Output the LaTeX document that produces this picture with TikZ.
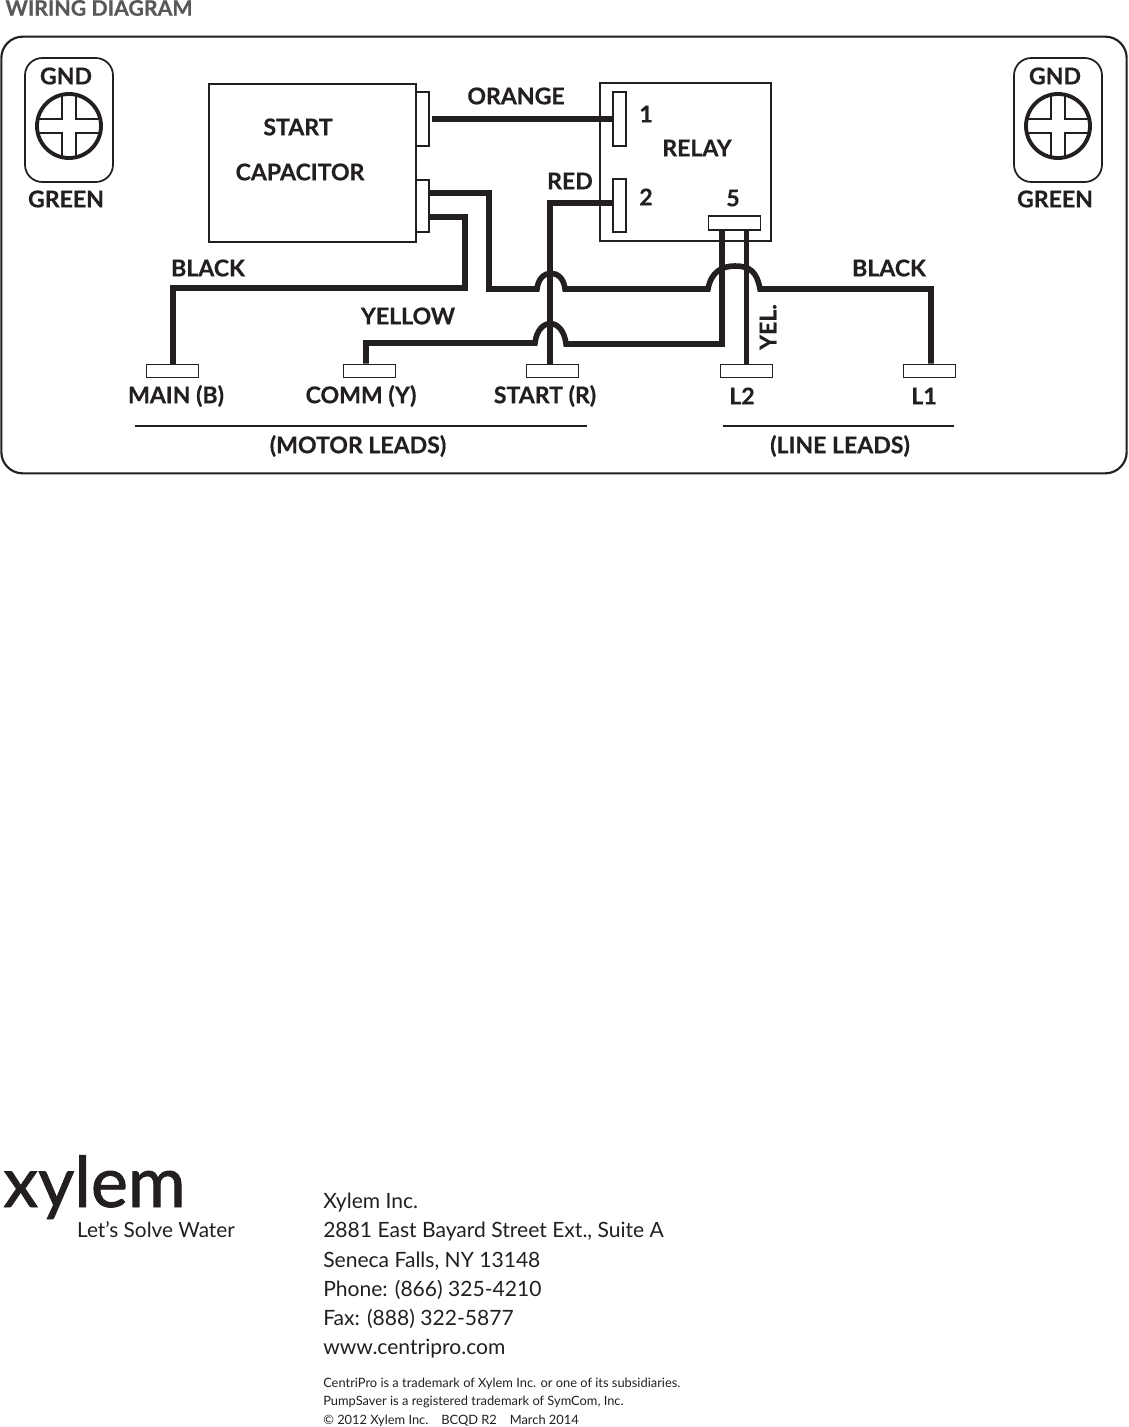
\documentclass[tikz,border=0pt]{standalone}
\usepackage{fontspec}
\setmainfont[BoldFeatures={FakeBold=0.5}]{Lato}
\newfontfamily\logofont[FakeBold=1.2]{Lato}
\usepackage{tikz}
\definecolor{ink}{HTML}{231F20}
\tikzset{
	lbl/.style={font=\fontsize{17.3}{19}\selectfont\bfseries, text=ink, inner sep=0pt},
	addr/.style={font=\fontsize{15.8}{18}\selectfont, text=ink, inner sep=0pt, anchor=west},
	fine/.style={font=\fontsize{9.65}{11}\selectfont, text=ink, inner sep=0pt, anchor=west},
	wire/.style={draw=ink, line width=4.2pt, miter limit=4},
	outline/.style={draw=ink, line width=1.6pt},
	lead/.style={draw=ink, fill=white, line width=1.2pt, minimum width=39pt, minimum height=10pt, inner sep=0pt},
	spade/.style={draw=ink, fill=white, line width=1.4pt, minimum width=10pt, minimum height=40pt, inner sep=0pt}
}
\begin{document}
\begin{tikzpicture}[x=0.75pt, y=-0.75pt]
\useasboundingbox (0,0) rectangle (1128,1427);

\node[lbl, font=\fontsize{16}{18}\selectfont\bfseries, text=ink!75] (title) at (99,8) {WIRING DIAGRAM};
\node[outline, rectangle, rounded corners=16pt, minimum width=844pt, minimum height=327.5pt, inner sep=0pt] (frame) at (564,255) {};

% ground screws
\foreach \x/\n in {69/L,1058/R} {
	\node[draw=ink, line width=1.3pt, rectangle, rounded corners=13pt, minimum width=66pt, minimum height=93pt, inner sep=0pt] (gnd\n) at (\x,120) {};
	\node[circle, draw=ink, line width=2.9pt, minimum size=48pt, inner sep=0pt] (screw\n) at (\x,126) {};
	\foreach \a in {1,-1} {
		\draw[ink, line width=1.3pt] (\x+\a*7,126-31) -- (\x+\a*7,126-7) -- (\x+\a*31,126-7);
		\draw[ink, line width=1.3pt] (\x+\a*7,126+31) -- (\x+\a*7,126+7) -- (\x+\a*31,126+7);
	}
	\node[lbl] (gndtxt\n) at (\x-3,76) {GND};
	\node[lbl] (green\n) at (\x-3,199) {GREEN};
}

% capacitor and relay
\node[outline, rectangle, minimum width=155pt, minimum height=118pt, inner sep=0pt] (cap) at (312.5,163) {};
\node[draw=ink, line width=1.4pt, minimum width=10pt, minimum height=40pt, inner sep=0pt] (capA) at (422.5,119) {};
\node[draw=ink, line width=1.4pt, minimum width=10pt, minimum height=39pt, inner sep=0pt] (capB) at (422.5,206) {};
\node[outline, rectangle, minimum width=128pt, minimum height=118pt, inner sep=0pt] (relay) at (685.5,162) {};
\node[spade] (relayA) at (619.5,119) {};
\node[spade] (relayB) at (619.5,205.5) {};
\node[lead, minimum height=10.5pt] (relayC) at (734.5,223) {};

% leads
\foreach \n/\x in {main/172.5,comm/369.5,start/552.5,ltwo/746.5,lone/929.5}
	\node[lead] (\n) at (\x,371) {};

% turning points
\coordinate (a1) at (489,193);
\coordinate (a2) at (489,289);
\coordinate (b1) at (465,217);
\coordinate (b2) at (465,288);
\coordinate (b3) at (173,288);
\coordinate (c1) at (366,343);
\coordinate (c2) at (722,344);
\coordinate (d1) at (550,203);
\coordinate (e1) at (931,289);

\draw[wire] ([xshift=1.5pt]capA.east) -- (relayA.west);
\draw[wire] (relayB.west |- d1) -- (d1) -- (start.north -| d1);
\draw[wire] (capB.east |- a1) -- (a1) -- (a2) -- (537,289)
	.. controls (539,268) and (563,268) .. (565,289)
	-- (708,289)
	.. controls (711,272) and (722,266) .. (735,266)
	.. controls (750,266) and (757,272) .. (760,289)
	-- (e1) -- (e1 |- lone.north);
\draw[wire] (capB.east |- b1) -- (b1) -- (b2) -- (b3) -- (b3 |- main.north);
\draw[wire] (c1 |- comm.north) -- (c1) -- (535,343)
	.. controls (538,317) and (563,317) .. (566,344)
	-- (c2) -- (c2 |- relayC.south);
\draw[wire] (relayC.south -| ltwo) -- (ltwo.north);

% labels
\node[lbl] (capone) at (298,127) {START};
\node[lbl] (captwo) at (300,172) {CAPACITOR};
\node[lbl] (orange) at (516,96) {ORANGE};
\node[lbl] (pinone) at (646,114) {1};
\node[lbl] (relaytxt) at (697,148) {RELAY};
\node[lbl] (red) at (570,181) {RED};
\node[lbl] (pintwo) at (646,197) {2};
\node[lbl] (pinfive) at (733,198) {5};
\node[lbl] (blackL) at (208,268) {BLACK};
\node[lbl] (blackR) at (889,268) {BLACK};
\node[lbl] (yellow) at (408,316) {YELLOW};
\node[lbl, rotate=90] (yel) at (768,327) {YEL.};
\node[lbl] (maintxt) at (176,396) {MAIN (B)};
\node[lbl] (commtxt) at (361,396) {COMM (Y)};
\node[lbl] (starttxt) at (545,396) {START (R)};
\node[lbl] (ltwotxt) at (742,396) {L2};
\node[lbl] (lonetxt) at (924,396) {L1};

\coordinate (m1) at (135,426);
\coordinate (m2) at (587,426);
\coordinate (n1) at (723,426);
\coordinate (n2) at (954,426);
\draw[ink, line width=1.5pt] (m1) -- (m2);
\draw[ink, line width=1.5pt] (n1) -- (n2);
\node[lbl] (motor) at (358,446) {(MOTOR LEADS)};
\node[lbl] (line) at (840,446) {(LINE LEADS)};

% logo
\node[font=\logofont\fontsize{52.6}{52}\selectfont, text=ink, inner sep=0pt, anchor=base west] (logo) at (3,1207) {xylem};
\node[font=\fontsize{15.6}{18}\selectfont, text=ink, inner sep=0pt] (slogan) at (156,1230) {Let's Solve Water};

% address
\foreach \y/\t in {1203/Xylem Inc.,1232/{2881 East Bayard Street Ext., Suite A},1261/{Seneca Falls, NY 13148},1290/{Phone: (866) 325-4210},1319/{Fax: (888) 322-5877},1349/www.centripro.com}
	\node[addr] at (323,\y) {\t};
\foreach \y/\t in {1384/CentriPro is a trademark of Xylem Inc. or one of its subsidiaries.,1402/{PumpSaver is a registered trademark of SymCom, Inc.},1421/{© 2012 Xylem Inc.\quad BCQD R2\quad March 2014}}
	\node[fine] at (323,\y) {\t};
\end{tikzpicture}
\end{document}
